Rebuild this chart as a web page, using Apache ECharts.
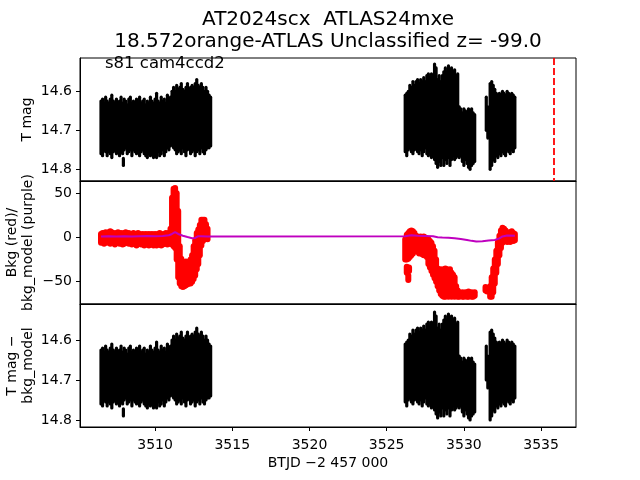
<!DOCTYPE html>
<html><head><meta charset="utf-8">
<script src="https://cdn.jsdelivr.net/npm/echarts@6/dist/echarts.min.js"></script>
<style>html,body{margin:0;padding:0;background:#fff}#c{width:640px;height:480px}</style>
</head><body><div id="c"></div>
<script>
// ---- x axis ----
const xTicks = [3510, 3515, 3520, 3525, 3530, 3535];
const vlineT = 3535.8;

// ---- T mag light curve: envelope of error bars (time, upper edge, lower edge) ----
const magT = [
 3506.5,3506.6,3506.7,3506.8,3506.9,3507.0,3507.1,3507.2,3507.3,3507.4,
 3507.5,3507.6,3507.7,3507.8,3507.9,3508.0,3508.1,3508.2,3508.3,3508.4,
 3508.5,3508.6,3508.7,3508.8,3508.9,3509.0,3509.1,3509.2,3509.3,3509.4,
 3509.5,3509.6,3509.7,3509.8,3509.9,3510.0,3510.1,3510.2,3510.3,3510.4,
 3510.5,3510.6,3510.7,3510.8,3510.9,3511.0,3511.1,3511.2,3511.3,3511.4,
 3511.5,3511.6,3511.7,3511.8,3511.9,3512.0,3512.1,3512.2,3512.3,3512.4,
 3512.5,3512.6,3512.7,3512.8,3512.9,3513.0,3513.1,3513.2,3513.3,3513.4,3513.5,3513.6,
 3526.2,3526.3,3526.4,3526.5,3526.6,3526.7,3526.8,3526.9,3527.0,3527.1,
 3527.2,3527.3,3527.4,3527.5,3527.6,3527.7,3527.8,3527.9,3528.0,3528.1,
 3528.2,3528.3,3528.4,3528.5,3528.6,3528.7,3528.8,3528.9,3529.0,3529.1,
 3529.2,3529.3,3529.4,3529.5,3529.6,3529.7,3529.8,3529.9,3530.0,3530.1,
 3530.2,3530.3,3530.4,3530.5,3530.6,3530.7,
 3531.45,3531.55,
 3531.7,3531.8,3531.9,3532.0,3532.1,3532.2,3532.3,3532.4,3532.5,3532.6,
 3532.7,3532.8,3532.9,3533.0,3533.1,3533.2,3533.3,
 3507.95
];
const magUpper = [
 14.625,14.62,14.63,14.615,14.625,14.63,14.62,14.61,14.625,14.63,
 14.62,14.635,14.625,14.615,14.63,14.62,14.625,14.635,14.62,14.615,
 14.63,14.625,14.635,14.62,14.63,14.615,14.63,14.625,14.62,14.635,
 14.625,14.63,14.615,14.625,14.63,14.62,14.605,14.625,14.63,14.615,
 14.625,14.62,14.63,14.61,14.62,14.615,14.6,14.59,14.6,14.585,
 14.595,14.59,14.58,14.595,14.6,14.59,14.58,14.6,14.59,14.585,
 14.59,14.58,14.57,14.585,14.59,14.58,14.59,14.6,14.59,14.6,14.61,14.615,
 14.61,14.605,14.6,14.585,14.59,14.575,14.585,14.575,14.57,14.58,
 14.57,14.575,14.565,14.575,14.56,14.555,14.565,14.555,14.56,14.53,
 14.54,14.57,14.56,14.575,14.56,14.55,14.54,14.55,14.535,14.545,
 14.54,14.55,14.545,14.56,14.555,14.64,14.645,14.655,14.645,14.65,
 14.66,14.645,14.65,14.645,14.655,14.66,
 14.615,14.64,
 14.58,14.575,14.585,14.595,14.605,14.61,14.605,14.61,14.6,14.605,
 14.61,14.6,14.605,14.61,14.605,14.61,14.615,
 14.772
];
const magLower = [
 14.76,14.765,14.75,14.755,14.765,14.755,14.76,14.77,14.755,14.75,
 14.76,14.75,14.765,14.755,14.76,14.75,14.745,14.76,14.755,14.75,
 14.765,14.75,14.755,14.76,14.75,14.765,14.755,14.75,14.76,14.765,
 14.77,14.76,14.765,14.755,14.77,14.76,14.77,14.755,14.765,14.76,
 14.75,14.765,14.755,14.745,14.75,14.74,14.735,14.745,14.75,14.76,
 14.755,14.75,14.76,14.745,14.755,14.765,14.75,14.745,14.76,14.755,
 14.75,14.765,14.755,14.75,14.76,14.745,14.755,14.76,14.75,14.745,14.745,14.74,
 14.755,14.765,14.75,14.745,14.755,14.76,14.75,14.745,14.755,14.76,
 14.75,14.765,14.755,14.745,14.76,14.765,14.755,14.77,14.76,14.775,
 14.785,14.795,14.78,14.79,14.77,14.79,14.775,14.785,14.77,14.79,
 14.775,14.765,14.775,14.77,14.765,14.77,14.765,14.78,14.79,14.775,
 14.785,14.795,14.8,14.79,14.785,14.78,
 14.70,14.72,
 14.8,14.79,14.775,14.78,14.765,14.77,14.76,14.765,14.755,14.76,
 14.765,14.75,14.755,14.76,14.75,14.755,14.745,
 14.79
];

// ---- Background (red): range of points per time ----
const bkgT = [
 3506.5,3506.6,3506.7,3506.8,3506.9,3507.0,3507.1,3507.2,3507.3,3507.4,
 3507.5,3507.6,3507.7,3507.8,3507.9,3508.0,3508.1,3508.2,3508.3,3508.4,
 3508.5,3508.6,3508.7,3508.8,3508.9,3509.0,3509.1,3509.2,3509.3,3509.4,
 3509.5,3509.6,3509.7,3509.8,3509.9,3510.0,3510.1,3510.2,3510.3,3510.4,
 3510.5,3510.6,3510.7,3510.8,3510.9,
 3511.0,3511.1,3511.2,3511.3,3511.4,3511.5,3511.6,3511.7,3511.8,3511.9,
 3512.0,3512.1,3512.2,3512.3,3512.4,3512.5,3512.6,3512.7,3512.8,3512.9,
 3513.0,3513.1,3513.2,3513.3,3513.4,
 3526.2,3526.3,3526.4,3526.5,3526.6,3526.7,3526.8,3526.9,3527.0,3527.1,
 3527.2,3527.3,3527.4,3527.5,3527.6,3527.7,3527.8,3527.9,3528.0,3528.1,
 3528.2,3528.3,3528.4,3528.5,3528.6,3528.7,3528.8,3528.9,3529.0,3529.1,
 3529.2,3529.3,3529.4,3529.5,3529.6,3529.7,3529.8,3529.9,3530.0,3530.1,
 3530.2,3530.3,3530.4,3530.5,3530.6,3530.7,
 3526.3,3526.4,3526.45,3531.4,3531.5,
 3531.7,3531.8,3531.9,3532.0,3532.1,3532.2,3532.3,3532.4,3532.5,3532.6,
 3532.7,3532.8,3532.9,3533.0,3533.1,3533.2,3533.3
];
const bkgLo = [
 -6,-5,-7,-6,-5,-6,-7,-6,-6,-8,
 -6,-5,-7,-6,-8,-7,-6,-6,-7,-6,
 -8,-6,-7,-9,-7,-6,-8,-7,-9,-8,
 -7,-9,-8,-7,-9,-8,-9,-7,-8,-9,
 -8,-7,-6,-8,-7,
 -6,-8,-10,-12,-25,-45,-52,-55,-56,-55,
 -54,-53,-52,-52,-50,-47,-43,-36,-30,-20,
 -9,-4,-2,-1,-2,
 -25,-25,-24,-22,-20,-18,-15,-14,-16,-18,
 -17,-19,-20,-18,-22,-30,-34,-38,-42,-46,
 -50,-55,-60,-64,-66,-67,-67,-66,-67,-66,
 -67,-66,-67,-66,-67,-67,-66,-67,-67,-66,
 -67,-67,-66,-67,-67,-66,
 -40,-48,-38,-60,-61,
 -67,-67,-62,-52,-40,-30,-20,-12,-6,-4,
 -3,-5,-4,-5,-3,-4,-3
];
const bkgHi = [
 4,5,4,6,5,6,7,6,5,4,
 5,6,4,5,4,5,6,4,5,4,
 4,5,3,4,5,4,3,4,3,4,
 3,4,3,4,3,4,3,4,5,4,
 3,4,5,4,5,
 10,45,55,56,50,30,-10,-24,-27,-28,
 -27,-28,-27,-25,-20,-10,-3,5,9,14,
 20,20,20,15,10,
 -2,3,5,7,8,7,5,2,1,0,
 1,0,1,0,-1,-2,-4,-6,-10,-15,
 -25,-35,-38,-36,-38,-36,-35,-36,-38,-36,
 -40,-42,-45,-55,-60,-62,-63,-62,-63,-62,
 -63,-61,-63,-62,-64,-62,
 -33,-43,-34,-56,-57,
 -55,-45,-35,-25,-15,-5,2,8,11,10,
 8,6,5,6,7,5,4
];

// ---- bkg_model (purple) ----
const modelT = [3506.5,3507.0,3507.5,3508.0,3508.5,3509.0,3509.5,3510.0,3510.5,3510.9,
 3511.1,3511.3,3511.5,3511.8,3512.1,3512.4,3512.6,3512.8,3513.0,3513.4,
 3526.2,3526.6,3527.0,3527.5,3528.0,3528.3,3528.6,3529.0,3529.4,3529.8,
 3530.2,3530.5,3530.8,3531.2,3531.6,3532.0,3532.3,3532.5,3532.8,3533.3];
const modelV = [1,1.5,1.2,1.5,1.0,1.3,1.6,1.5,1.8,2.5,
 4,6,4,2,0.5,-0.8,-0.5,1.5,1.5,1.2,
 1.5,2.5,2.0,1.8,1.5,0.3,0,-0.2,-0.8,-1.8,
 -2.8,-3.8,-4.5,-4.2,-3.5,-2.8,-1,1.2,2.3,2.0];

// ---- build ----
const FONT = 'DejaVu Sans';
const magData = magT.map((t,i)=>[t, magUpper[i], magLower[i]]);
const bkgData = bkgT.map((t,i)=>[t, bkgLo[i], bkgHi[i]]);
const modelData = modelT.map((t,i)=>[t, modelV[i]]);

function rangeSeries(idx, data, color, width, cap, extra) {
  return Object.assign({
    type: 'custom', xAxisIndex: idx, yAxisIndex: idx, data: data,
    encode: {x: 0, y: [1, 2]}, clip: true, silent: true, animation: false,
    renderItem: function (params, api) {
      const a = api.coord([api.value(0), api.value(1)]);
      const b = api.coord([api.value(0), api.value(2)]);
      return {type: 'line', shape: {x1: a[0], y1: a[1], x2: b[0], y2: b[1]},
              style: {stroke: color, lineWidth: width, lineCap: cap}};
    }
  }, extra || {});
}

const grids = [
  {left: 80, top: 58, width: 496, height: 123},
  {left: 80, top: 181, width: 496, height: 123},
  {left: 80, top: 304, width: 496, height: 123}
].map(g => Object.assign(g, {show: true, borderColor: '#000', borderWidth: 1, backgroundColor: 'transparent'}));

function xAx(i, labels) {
  return {
    gridIndex: i, type: 'value', min: 3505.14, max: 3537.26,
    axisLine: {show: true, onZero: false, lineStyle: {color: '#000', width: 1}},
    splitLine: {show: false},
    axisTick: {show: labels, length: 4, lineStyle: {color: '#000'}, customValues: xTicks},
    axisLabel: {show: labels, customValues: xTicks, color: '#000', fontSize: 14, fontFamily: FONT, margin: 11,
                formatter: v => String(v)}
  };
}
function yAx(i, min, max, inv, ticks, fmt) {
  return {
    gridIndex: i, type: 'value', min: min, max: max, inverse: inv,
    axisLine: {show: true, onZero: false, lineStyle: {color: '#000', width: 1}},
    splitLine: {show: false},
    axisTick: {show: true, length: 4, lineStyle: {color: '#000'}, customValues: ticks},
    axisLabel: {customValues: ticks, color: '#000', fontSize: 14, fontFamily: FONT, margin: 8, formatter: fmt}
  };
}
const magFmt = v => v.toFixed(1);
const bkgFmt = v => v < 0 ? '\u2212' + Math.abs(v) : String(v);

function txt(x, y, s, size, rot, align) {
  return {type: 'text', x: x, y: y, rotation: rot || 0, silent: true,
          style: {text: s, fill: '#000', font: size + 'px "' + FONT + '"', align: align || 'center', verticalAlign: 'middle'}};
}

const option = {
  animation: false,
  backgroundColor: '#fff',
  grid: grids,
  xAxis: [xAx(0, false), xAx(1, false), xAx(2, true)],
  yAxis: [
    yAx(0, 14.5146, 14.83, true, [14.6, 14.7, 14.8], magFmt),
    yAx(1, -75.2, 63.9, false, [-50, 0, 50], bkgFmt),
    yAx(2, 14.51, 14.8175, true, [14.6, 14.7, 14.8], magFmt)
  ],
  series: [
    rangeSeries(0, magData, '#000', 3.2, 'round', {
      markLine: {silent: true, symbol: 'none', label: {show: false}, animation: false,
                 lineStyle: {color: '#ff0000', type: [7, 3], width: 1.8},
                 data: [{xAxis: vlineT}]}
    }),
    rangeSeries(1, bkgData, '#ff0000', 6, 'round'),
    {type: 'line', xAxisIndex: 1, yAxisIndex: 1, data: modelData, showSymbol: false, silent: true,
     lineStyle: {color: '#bf00bf', width: 2}, z: 5, animation: false},
    rangeSeries(2, magData, '#000', 3.2, 'round')
  ],
  graphic: [
    txt(328, 20, 'AT2024scx  ATLAS24mxe', 20),
    txt(328, 42, '18.572orange-ATLAS Unclassified z= -99.0', 20),
    txt(105, 64, 's81 cam4ccd2', 16.5, 0, 'left'),
    txt(27, 119.5, 'T mag', 14, Math.PI / 2),
    txt(12, 242.5, 'Bkg (red)/', 14, Math.PI / 2),
    txt(28, 242.5, 'bkg_model (purple)', 14, Math.PI / 2),
    txt(12, 365.5, 'T mag \u2212', 14, Math.PI / 2),
    txt(28, 365.5, 'bkg_model', 14, Math.PI / 2),
    txt(328, 463, 'BTJD \u22122 457 000', 14)
  ]
};
echarts.init(document.getElementById('c'), null, {renderer: 'canvas'}).setOption(option);
</script></body></html>
